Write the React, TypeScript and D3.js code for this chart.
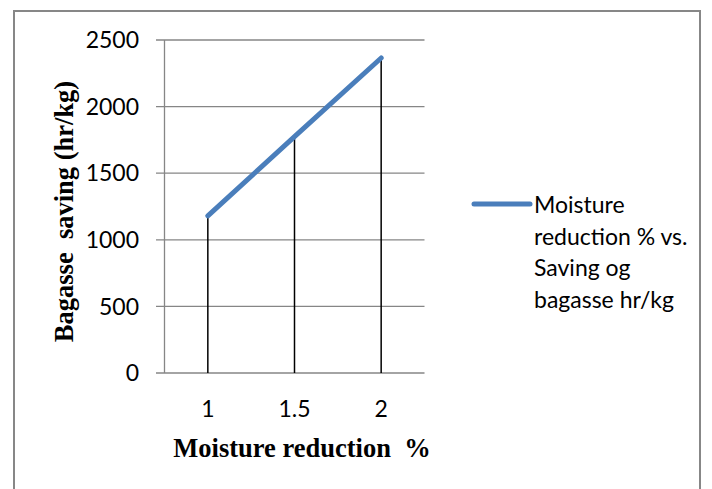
import React from "react";
import * as d3 from "d3";

const categories: number[] = [1, 1.5, 2];
const savings: number[] = [1180, 1775, 2365];
const yTicks: number[] = [0, 500, 1000, 1500, 2000, 2500];
const legendLines: string[] = ["Moisture", "reduction % vs.", "Saving og", "bagasse hr/kg"];

export default function App() {
  const W = 712, H = 489;
  const left = 164.5, right = 424.5, top = 40, bottom = 373;
  const x = d3.scaleBand<number>().domain(categories).range([left, right]).padding(0);
  const y = d3.scaleLinear().domain([0, 2500]).range([bottom, top]);
  const cx = (d: number) => (x(d) as number) + x.bandwidth() / 2;
  const line = d3.line<number>().x((_, i) => cx(categories[i])).y((d) => y(d));
  const grid = "#868686";
  const font = "Lato, 'Open Sans', sans-serif";
  const serif = "'Liberation Serif', 'Times New Roman', serif";
  return (
    <div style={{ position: "absolute", left: 0, top: 0 }}>
      <svg width={W} height={H} style={{ display: "block" }}>
        <rect width={W} height={H} fill="#fff" />
        <path d={`M14,${H} V11 H700 V${H}`} fill="none" stroke="#878787" strokeWidth={2} />
        {yTicks.map((t) => (
          <g key={t}>
            <line x1={156} x2={right} y1={y(t)} y2={y(t)} stroke={grid} strokeWidth={1.3} />
            <text x={139} y={y(t)} dy="0.36em" textAnchor="end" fontFamily={font} fontSize={23} fill="#000">
              {t}
            </text>
          </g>
        ))}
        <line x1={left} x2={left} y1={top} y2={bottom} stroke={grid} strokeWidth={1.3} />
        {categories.map((c, i) => (
          <g key={c}>
            <line x1={cx(c)} x2={cx(c)} y1={y(savings[i])} y2={bottom} stroke="#000" strokeWidth={1.5} />
            <text x={cx(c)} y={417} textAnchor="middle" fontFamily={font} fontSize={23} fill="#000">
              {c}
            </text>
          </g>
        ))}
        <path d={line(savings) || ""} fill="none" stroke="#4a7ebb" strokeWidth={5} strokeLinecap="round" />
        <text
          x={302}
          y={457}
          textAnchor="middle"
          fontFamily={serif}
          fontWeight="bold"
          fontSize={26.5}
          fill="#000"
          style={{ whiteSpace: "pre" }}
        >
          {"Moisture reduction  %"}
        </text>
        <text
          transform="translate(73,211.5) rotate(-90)"
          textAnchor="middle"
          fontFamily={serif}
          fontWeight="bold"
          fontSize={26.5}
          fill="#000"
          style={{ whiteSpace: "pre" }}
        >
          {"Bagasse  saving (hr/kg)"}
        </text>
        <line x1={474} x2={530} y1={204} y2={204} stroke="#4a7ebb" strokeWidth={5} strokeLinecap="round" />
        {legendLines.map((s, i) => (
          <text key={i} x={534} y={213 + i * 31.5} fontFamily={font} fontSize={23} fill="#000">
            {s}
          </text>
        ))}
      </svg>
    </div>
  );
}
